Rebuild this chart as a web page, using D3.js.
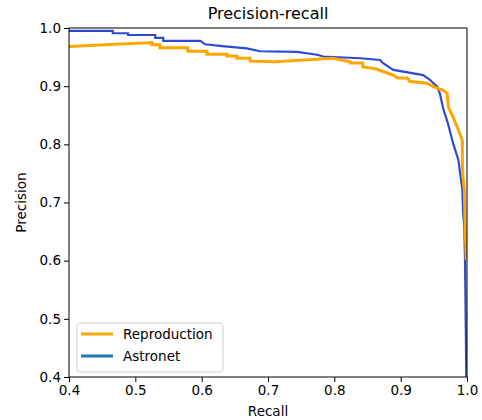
<!DOCTYPE html>
<html>
<head>
<meta charset="utf-8">
<script src="https://cdn.jsdelivr.net/npm/d3@7"></script>
<style>
  body { margin: 0; background: #fff; }
  text { font-family: "DejaVu Sans", sans-serif; fill: #000; }
</style>
</head>
<body>
<div id="chart"></div>
<script>
// Values
const reproRecall = [0.400, 0.525, 0.525, 0.537, 0.537, 0.579, 0.579, 0.608, 0.608, 0.638, 0.638, 0.653, 0.653, 0.673, 0.673, 0.711, 0.798, 0.824, 0.824, 0.843, 0.843, 0.857, 0.864, 0.879, 0.889, 0.895, 0.910, 0.914, 0.934, 0.940, 0.949, 0.964, 0.970, 0.972, 0.979, 0.987, 0.993, 0.993, 0.994, 0.996, 0.997, 0.999]
const reproPrecision = [0.968, 0.975, 0.971, 0.971, 0.966, 0.966, 0.960, 0.960, 0.955, 0.955, 0.952, 0.952, 0.948, 0.948, 0.943, 0.942, 0.948, 0.942, 0.940, 0.940, 0.933, 0.931, 0.929, 0.923, 0.919, 0.914, 0.914, 0.908, 0.906, 0.905, 0.899, 0.893, 0.888, 0.864, 0.847, 0.825, 0.807, 0.768, 0.744, 0.722, 0.665, 0.601]

const astroRecall = [0.400, 0.466, 0.466, 0.489, 0.489, 0.530, 0.530, 0.542, 0.542, 0.598, 0.605, 0.631, 0.668, 0.688, 0.744, 0.774, 0.783, 0.839, 0.869, 0.873, 0.889, 0.934, 0.944, 0.955, 0.959, 0.964, 0.971, 0.979, 0.987, 0.993, 0.994, 0.996, 0.997, 0.999]
const astroPrecision = [0.995, 0.995, 0.991, 0.991, 0.988, 0.988, 0.983, 0.983, 0.978, 0.978, 0.972, 0.969, 0.965, 0.960, 0.959, 0.954, 0.951, 0.948, 0.945, 0.940, 0.928, 0.919, 0.911, 0.899, 0.888, 0.862, 0.837, 0.802, 0.773, 0.722, 0.687, 0.653, 0.601, 0.400]

const xTicks = [0.4, 0.5, 0.6, 0.7, 0.8, 0.9, 1.0]
const yTicks = [0.4, 0.5, 0.6, 0.7, 0.8, 0.9, 1.0]
const seriesNames = ["Reproduction", "Astronet"]

// Margin convention
const margin = { top: 28, right: 15, bottom: 43, left: 69 }
const width = 482 - margin.left - margin.right
const height = 420 - margin.top - margin.bottom

const svg = d3.select("#chart").append("svg")
    .attr("width", 482)
    .attr("height", 420)

const g = svg.append("g")
    .attr("transform", "translate(" + margin.left + "," + margin.top + ")")

const x = d3.scaleLinear().domain([0.4, 1.0]).range([0, width])
const y = d3.scaleLinear().domain([0.4, 1.0]).range([height, 0])

// clip so the curves stay inside the axes
svg.append("defs").append("clipPath").attr("id", "clip")
  .append("rect").attr("width", width).attr("height", height)

const line = d3.line()
    .x(d => x(d[0]))
    .y(d => y(d[1]))

const astro = d3.zip(astroRecall, astroPrecision)
const repro = d3.zip(reproRecall, reproPrecision)

const curves = g.append("g").attr("clip-path", "url(#clip)")

curves.append("path")
    .datum(astro)
    .attr("d", line)
    .attr("fill", "none")
    .attr("stroke", "#2b4bd6")
    .attr("stroke-width", 2.2)

curves.append("path")
    .datum(repro)
    .attr("d", line)
    .attr("fill", "none")
    .attr("stroke", "#ffa500")
    .attr("stroke-width", 3)

// Axes
g.append("g")
    .attr("transform", "translate(0," + height + ")")
    .call(d3.axisBottom(x).tickValues(xTicks).tickFormat(d3.format(".1f")).tickSize(5).tickPadding(3))
g.append("g")
    .call(d3.axisLeft(y).tickValues(yTicks).tickFormat(d3.format(".1f")).tickSize(5).tickPadding(3))

g.selectAll(".tick text").attr("font-size", 13.5).attr("font-family", "DejaVu Sans")
g.selectAll(".domain").remove()

// frame
g.append("rect")
    .attr("width", width)
    .attr("height", height)
    .attr("fill", "none")
    .attr("stroke", "#000")
    .attr("stroke-width", 1)

// Labels
svg.append("text")
    .attr("x", margin.left + width / 2)
    .attr("y", 19)
    .attr("text-anchor", "middle")
    .attr("font-size", 16)
    .text("Precision-recall")

svg.append("text")
    .attr("x", margin.left + width / 2)
    .attr("y", 416)
    .attr("text-anchor", "middle")
    .attr("font-size", 13.5)
    .text("Recall")

svg.append("text")
    .attr("transform", "translate(26," + (margin.top + height / 2) + ") rotate(-90)")
    .attr("text-anchor", "middle")
    .attr("font-size", 13.5)
    .text("Precision")

// Legend
const legend = svg.append("g").attr("transform", "translate(77,323)")
legend.append("rect")
    .attr("width", 146)
    .attr("height", 49)
    .attr("rx", 3)
    .attr("fill", "#fff")
    .attr("fill-opacity", 0.8)
    .attr("stroke", "#d0d0d0")

const legendColors = ["#ffa500", "#1f77b4"]
seriesNames.forEach((name, i) => {
  const ly = 11 + i * 22
  legend.append("line")
      .attr("x1", 4).attr("x2", 36)
      .attr("y1", ly).attr("y2", ly)
      .attr("stroke", legendColors[i])
      .attr("stroke-width", 3)
  legend.append("text")
      .attr("x", 46)
      .attr("y", ly + 5)
      .attr("font-size", 13.5)
      .text(name)
})
</script>
</body>
</html>
